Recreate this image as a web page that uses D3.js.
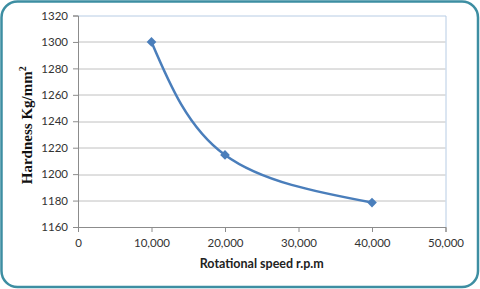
<!DOCTYPE html>
<html>
<head>
<meta charset="utf-8">
<script src="https://cdn.jsdelivr.net/npm/d3@7"></script>
<style>
  body { margin: 0; background: #fff; }
  #chart { width: 480px; height: 289px; }
</style>
</head>
<body>
<div id="chart"></div>
<script>
// data
const speeds = [10000, 20000, 40000]
const hardness = [1300, 1214.5, 1178.5]
const xTicks = [0, 10000, 20000, 30000, 40000, 50000]
const yTicks = [1160, 1180, 1200, 1220, 1240, 1260, 1280, 1300, 1320]

const W = 480, H = 289
const margin = {top: 15.5, right: 34.5, bottom: 62, left: 78}
const width = W - margin.left - margin.right
const height = H - margin.top - margin.bottom

const svg = d3.select("#chart").append("svg")
  .attr("width", W)
  .attr("height", H)

// outer rounded frame
svg.append("rect")
  .attr("x", 1.5).attr("y", 1.5)
  .attr("width", W - 3.5).attr("height", H - 3.5)
  .attr("rx", 16).attr("ry", 16)
  .attr("fill", "#fff")
  .attr("stroke", "#3d8ea2")
  .attr("stroke-width", 2.5)

const g = svg.append("g")
  .attr("transform", `translate(${margin.left}, ${margin.top})`)

const x = d3.scaleLinear().domain([0, 50000]).range([0, width])
const y = d3.scaleLinear().domain([1160, 1320]).range([height, 0])

// gridlines
g.selectAll(".grid")
  .data(yTicks.slice(1, -1))
  .join("line")
    .attr("x1", 0).attr("x2", width)
    .attr("y1", d => Math.round(y(d)) + 0.5)
    .attr("y2", d => Math.round(y(d)) + 0.5)
    .attr("stroke", "#c0c0c0")
    .attr("stroke-width", 1)

// plot area border (top + right)
g.append("path")
  .attr("d", `M0,0.5H${width + 0.5}V${height}`)
  .attr("fill", "none")
  .attr("stroke", "#b7cce4")
  .attr("stroke-width", 1)

// x axis
const xAxis = g.append("g")
  .attr("transform", `translate(0, ${height})`)
  .call(d3.axisBottom(x).tickValues(xTicks).tickSize(5).tickPadding(7)
    .tickFormat(d3.format(",")))
xAxis.select(".domain").attr("stroke", "#8c8c8c")
xAxis.selectAll(".tick line").attr("stroke", "#8c8c8c")
xAxis.selectAll("text")
  .style("font-family", "Lato, 'Open Sans', sans-serif")
  .style("font-size", "11.5px")
  .attr("fill", "#333")

// y axis
const yAxis = g.append("g")
  .call(d3.axisLeft(y).tickValues(yTicks).tickSize(5).tickPadding(5)
    .tickFormat(d3.format("d")))
yAxis.select(".domain").attr("stroke", "#8c8c8c")
yAxis.selectAll(".tick line").attr("stroke", "#8c8c8c")
yAxis.selectAll("text")
  .style("font-family", "Lato, 'Open Sans', sans-serif")
  .style("font-size", "11.5px")
  .attr("fill", "#333")

// smoothed line
const pts = speeds.map((s, i) => [s, hardness[i]])
const line = d3.line()
  .x(d => x(d[0]))
  .y(d => y(d[1]))
  .curve(d3.curveNatural)
g.append("path")
  .datum(pts)
  .attr("d", line)
  .attr("fill", "none")
  .attr("stroke", "#4a7ebb")
  .attr("stroke-width", 2.5)

// diamond markers
g.selectAll(".pt")
  .data(pts)
  .join("path")
    .attr("d", d3.symbol(d3.symbolDiamond2, 60))
    .attr("transform", d => `translate(${x(d[0])}, ${y(d[1])})`)
    .attr("fill", "#4a7ebb")

// axis titles
g.append("text")
  .attr("x", width / 2)
  .attr("y", height + 41)
  .attr("text-anchor", "middle")
  .style("font-family", "Lato, 'Open Sans', sans-serif")
  .style("font-weight", "bold")
  .style("font-size", "12.5px")
  .attr("fill", "#222")
  .text("Rotational speed r.p.m")

const yt = g.append("text")
  .attr("transform", `translate(-46, ${height / 2 + 4}) rotate(-90)`)
  .attr("text-anchor", "middle")
  .style("font-family", "'Liberation Serif', 'Times New Roman', serif")
  .style("font-weight", "bold")
  .style("font-size", "15px")
  .attr("fill", "#111")
yt.append("tspan").text("Hardness Kg/mm")
yt.append("tspan").attr("dy", -6).style("font-size", "10px").text("2")
</script>
</body>
</html>
